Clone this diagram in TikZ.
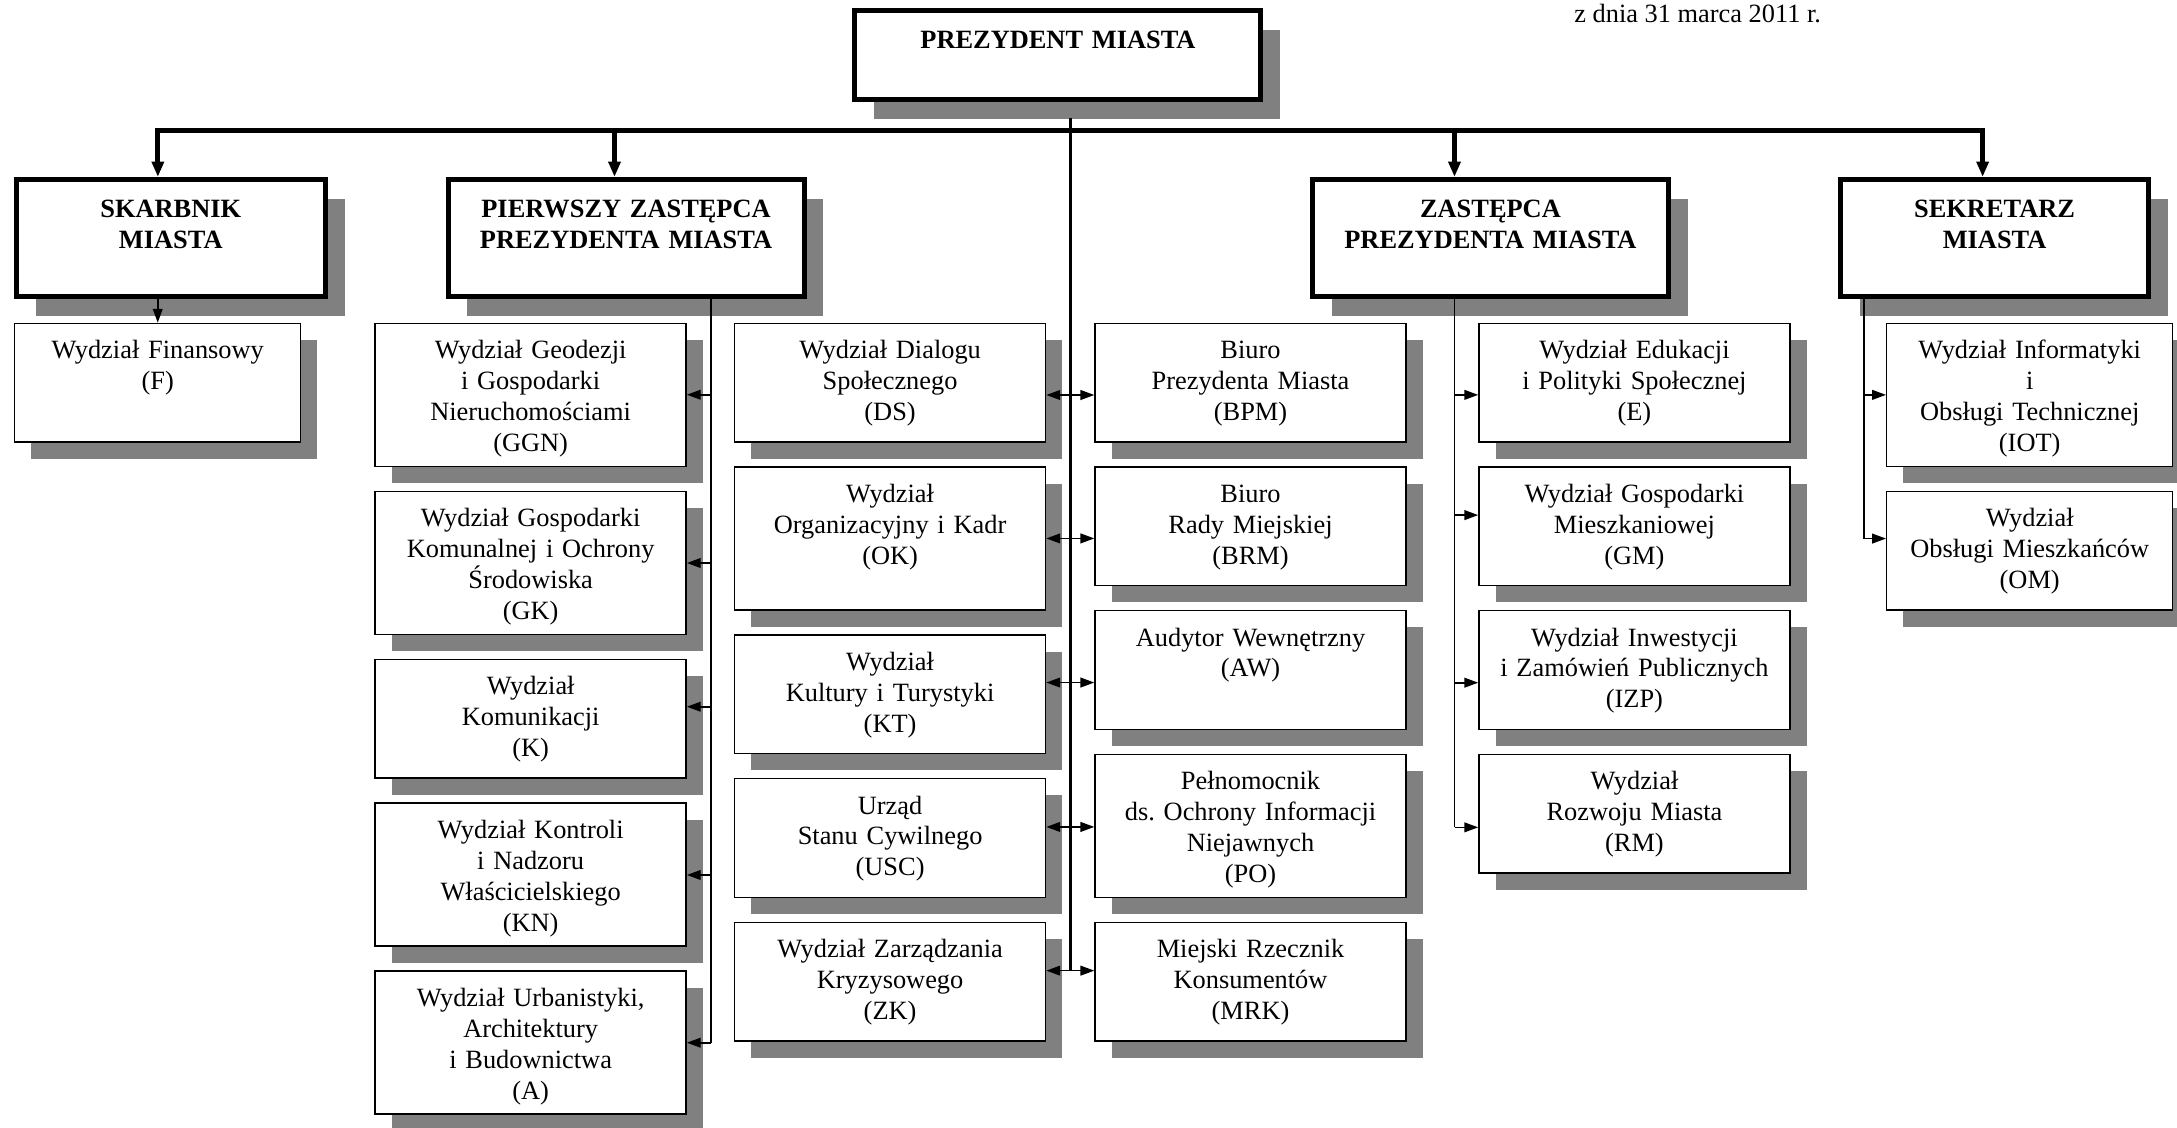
\documentclass[tikz,border=0pt]{standalone}
\usepackage{fontspec}
\setmainfont{Liberation Serif}
\usetikzlibrary{arrows.meta,positioning,shadows}

\begin{document}
\begin{tikzpicture}[
    x=1pt, y=-1pt,
    >={Triangle[length=10pt, width=7pt]},
    bigtip/.tip={Triangle[length=11pt, width=8.5pt]},
    chief/.style={draw, fill=white, line width=3.6pt, align=center, inner sep=0pt,
        font=\fontsize{19}{21.7}\selectfont\bfseries, text height=27.8pt, text depth=56.6pt,
        drop shadow={shadow xshift=14pt, shadow yshift=-14pt, fill=black!50, opacity=1}},
    unit/.style={draw, fill=white, line width=1pt, align=center, inner sep=0pt, text width=224pt,
        font=\fontsize{19}{22.3}\selectfont, text height=25.4pt, text depth=60.1pt,
        drop shadow={shadow xshift=12pt, shadow yshift=-12pt, fill=black!50, opacity=1}},
    tall/.style={text depth=77.6pt},
    narrow/.style={text width=206pt},
    link/.style={line width=1.2pt},
    bus/.style={line width=3.7pt}
]
\useasboundingbox (0,0) rectangle (1568,812);

% kierownictwo
\node[chief, text width=292.4pt, text height=27pt, text depth=36.6pt] (prez) at (762,39.6) {PREZYDENT MIASTA};
\node[anchor=base west, inner sep=0pt, font=\fontsize{19}{22.3}\selectfont] (date) at (1133.7,16.3) {z dnia 31 marca 2011 r.};
\node[chief, text width=222.4pt] (skarb) at (123,171.4) {SKARBNIK\\MIASTA};
\node[chief, text width=256.4pt] (pierw) at (450.9,171.4) {PIERWSZY ZASTĘPCA\\PREZYDENTA MIASTA};
\node[chief, text width=256.4pt] (zast) at (1073.5,171.4) {ZASTĘPCA\\PREZYDENTA MIASTA};
\node[chief, text width=221.4pt] (sekr) at (1436.6,171.4) {SEKRETARZ\\MIASTA};

% skarbnik
\node[unit, narrow, anchor=north] (f) at (113.6,232.4) {Wydział Finansowy\\(F)};

% pierwszy zastepca
\node[unit, tall, anchor=north] (ggn) at (382.2,232.4) {Wydział Geodezji\\i Gospodarki\\Nieruchomościami\\(GGN)};
\node[unit, tall, below=17pt of ggn] (gk) {Wydział Gospodarki\\Komunalnej i Ochrony\\Środowiska\\(GK)};
\node[unit, below=17pt of gk] (k) {Wydział\\Komunikacji\\(K)};
\node[unit, tall, below=17pt of k] (kn) {Wydział Kontroli\\i Nadzoru\\Właścicielskiego\\(KN)};
\node[unit, tall, below=17pt of kn] (a) {Wydział Urbanistyki,\\Architektury\\i Budownictwa\\(A)};

% prezydent - lewa strona
\node[unit, anchor=north] (ds) at (641.1,232.4) {Wydział Dialogu\\Społecznego\\(DS)};
\node[unit, tall, below=17pt of ds] (ok) {Wydział\\Organizacyjny i Kadr\\(OK)};
\node[unit, below=17pt of ok] (kt) {Wydział\\Kultury i Turystyki\\(KT)};
\node[unit, below=17pt of kt] (usc) {Urząd\\Stanu Cywilnego\\(USC)};
\node[unit, below=17pt of usc] (zk) {Wydział Zarządzania\\Kryzysowego\\(ZK)};

% prezydent - prawa strona
\node[unit, anchor=north] (bpm) at (900.7,232.4) {Biuro\\Prezydenta Miasta\\(BPM)};
\node[unit, below=17pt of bpm] (brm) {Biuro\\Rady Miejskiej\\(BRM)};
\node[unit, below=17pt of brm] (aw) {Audytor Wewnętrzny\\(AW)};
\node[unit, tall, below=17pt of aw] (po) {Pełnomocnik\\ds.\ Ochrony Informacji\\Niejawnych\\(PO)};
\node[unit, below=17pt of po] (mrk) {Miejski Rzecznik\\Konsumentów\\(MRK)};

% zastepca
\node[unit, anchor=north] (e) at (1177.2,232.4) {Wydział Edukacji\\i Polityki Społecznej\\(E)};
\node[unit, below=17pt of e] (gm) {Wydział Gospodarki\\Mieszkaniowej\\(GM)};
\node[unit, below=17pt of gm] (izp) {Wydział Inwestycji\\i Zamówień Publicznych\\(IZP)};
\node[unit, below=17pt of izp] (rm) {Wydział\\Rozwoju Miasta\\(RM)};

% sekretarz
\node[unit, tall, narrow, anchor=north] (iot) at (1461.9,232.4) {Wydział Informatyki\\i\\Obsługi Technicznej\\(IOT)};
\node[unit, narrow, below=17pt of iot] (om) {Wydział\\Obsługi Mieszkańców\\(OM)};

% szyna glowna
\coordinate (b1) at (113.7,94.1);
\coordinate (b2) at (442.6,94.1);
\coordinate (b3) at (1047.6,94.1);
\coordinate (b4) at (1428,94.1);
\draw[bus, bigtip-bigtip] (skarb.north -| b1) -- (b1) -- (b4) -- (sekr.north -| b4);
\draw[bus, -bigtip] (b2) -- (pierw.north -| b2);
\draw[bus, -bigtip] (b3) -- (zast.north -| b3);

\draw[link, ->] (skarb.south -| f.north) -- (f.north);

% komorki podlegle prezydentowi
\coordinate (hub) at (771,85.2);
\foreach \l/\r/\y [count=\i] in {ds/bpm/284.5, ok/brm/387.8, kt/aw/491.6, usc/po/595.6, zk/mrk/699.1} {
    \coordinate (h\i) at (771,\y);
    \draw[link, <->] (h\i -| \l.east) -- (h\i -| \r.west);
}
\draw[link, line width=1.5pt] (hub) -- (h5);

% pierwszy zastepca
\foreach \n/\y in {ggn/284.3, gk/405.5, k/509, kn/630.2, a/751} {
    \coordinate (p\n) at (512,\y);
    \draw[link, ->] (p\n) -- (p\n -| \n.east);
}
\draw[link] (pierw.south -| pa) -- (pa);

% zastepca
\foreach \n/\y in {e/284.4, gm/371, izp/491.7, rm/595.9} {
    \coordinate (z\n) at (1047.6,\y);
    \draw[link, ->] (z\n) -- (z\n -| \n.west);
}
\draw[link] (zast.south -| zrm) -- (zrm);

% sekretarz
\foreach \n/\y in {iot/284.4, om/387.9} {
    \coordinate (s\n) at (1342.4,\y);
    \draw[link, ->] (s\n) -- (s\n -| \n.west);
}
\draw[link] (sekr.south -| som) -- (som);
\end{tikzpicture}
\end{document}
